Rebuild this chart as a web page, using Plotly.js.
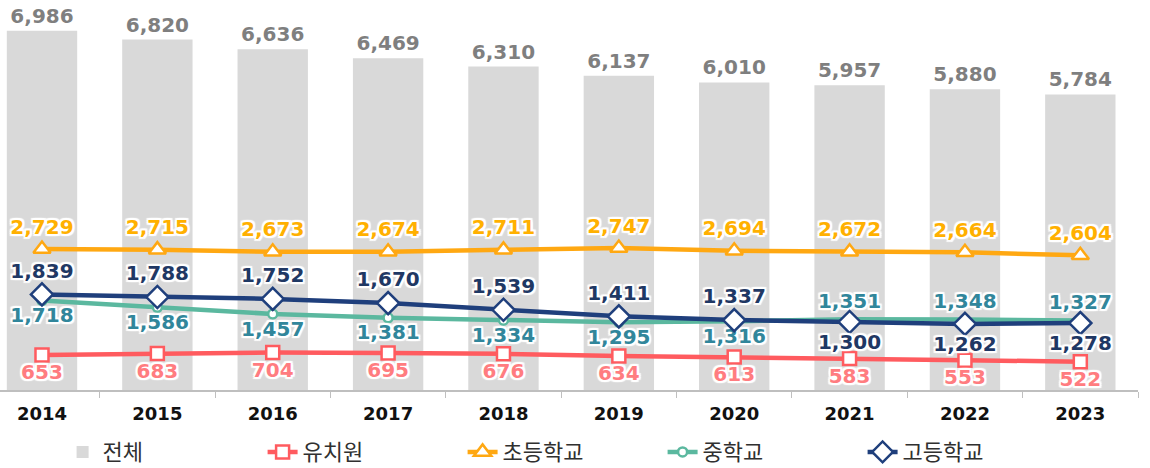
<!DOCTYPE html>
<html>
<head>
<meta charset="utf-8">
<script src="https://cdn.plot.ly/plotly-3.0.1.min.js"></script>
<style>
    html, body { margin: 0; padding: 0; background: #fff; }
    #plotly__graph { width: 1150px; height: 468px; }
</style>
</head>
<body>
<div id="plotly__graph"></div>
<script>
// **********************************************************************************************
// DATA

const years = ['2014', '2015', '2016', '2017', '2018', '2019', '2020', '2021', '2022', '2023'];
const total = [6986, 6820, 6636, 6469, 6310, 6137, 6010, 5957, 5880, 5784];
const kinder = [653, 683, 704, 695, 676, 634, 613, 583, 553, 522];
const elementary = [2729, 2715, 2673, 2674, 2711, 2747, 2694, 2672, 2664, 2604];
const middle = [1718, 1586, 1457, 1381, 1334, 1295, 1316, 1351, 1348, 1327];
const high = [1839, 1788, 1752, 1670, 1539, 1411, 1337, 1300, 1262, 1278];

const plotly_graph = () => {
    const div = document.getElementById('plotly__graph');

    const halo = '2px 0 1px #fff, -2px 0 1px #fff, 0 2px 1px #fff, 0 -2px 1px #fff, 2px 2px 1px #fff, -2px -2px 1px #fff, 2px -2px 1px #fff, -2px 2px 1px #fff';
    const labelFont = (color) => ({ family: 'DejaVu Sans', size: 20, weight: 'bold', color: color, shadow: halo });

    // label sides for middle / high school flip after 2020
    const highPos = years.map((y, i) => i < 7 ? 'top center' : 'bottom center');
    const middlePos = years.map((y, i) => i < 7 ? 'bottom center' : 'top center');

    let bars = {
        name: '전체',
        type: 'bar',
        x: years,
        y: total,
        marker: { color: '#D9D9D9' },
        texttemplate: '%{y:,}',
        textposition: 'outside',
        textfont: { family: 'DejaVu Sans', size: 20, weight: 'bold', color: '#7F7F7F' },
        cliponaxis: false,
        hoverinfo: 'skip'
    };

    const lineTrace = (name, values, color, symbol, size, textColor, pos) => ({
        name: name,
        type: 'scatter',
        mode: 'lines+markers+text',
        x: years,
        y: values,
        yaxis: 'y2',
        line: { color: color, width: 4.5 },
        marker: { symbol: symbol, size: size, color: '#fff', line: { color: color, width: 2.5 } },
        texttemplate: '%{y:,}',
        textposition: pos,
        textfont: labelFont(textColor),
        cliponaxis: false,
        hoverinfo: 'skip'
    });

    let data = [
        bars,
        lineTrace('유치원', kinder, '#FF5B5F', 'square', 13, '#FF7C80', 'bottom center'),
        lineTrace('초등학교', elementary, '#FFA812', 'triangle-up', 15, '#FFB000', 'top center'),
        lineTrace('중학교', middle, '#5BB89F', 'circle', 9, '#31869B', middlePos),
        lineTrace('고등학교', high, '#1F3F7C', 'diamond', 17, '#1F3864', highPos)
    ];

    // **********************************************************************************************
    // LAYOUT

    let layout = {
        width: 1150,
        height: 468,
        margin: { t: 20, r: 12, b: 78, l: 0, autoexpand: false },
        paper_bgcolor: '#fff',
        plot_bgcolor: '#fff',
        bargap: 0.39,
        showlegend: true,
        legend: {
            orientation: 'h',
            x: 0.055,
            xanchor: 'left',
            yref: 'container',
            y: 0.034,
            yanchor: 'middle',
            font: { family: 'Noto Sans CJK KR', size: 22, color: '#303030' },
            entrywidth: 155,
            entrywidthmode: 'pixels',
            traceorder: 'normal'
        },
        xaxis: {
            type: 'category',
            range: [-0.364, 9.5],
            showline: true,
            linecolor: '#BFBFBF',
            linewidth: 1.5,
            ticks: 'outside',
            tickson: 'boundaries',
            ticklen: 6,
            tickcolor: '#BFBFBF',
            ticklabelstandoff: 7,
            tickfont: { family: 'DejaVu Sans', size: 18, weight: 'bold', color: '#111' },
            showgrid: false,
            zeroline: false,
            fixedrange: true
        },
        yaxis: {
            range: [207, 7189],
            visible: false,
            showgrid: false,
            zeroline: false,
            fixedrange: true
        },
        yaxis2: {
            range: [-31, 7209],
            overlaying: 'y',
            visible: false,
            showgrid: false,
            zeroline: false,
            fixedrange: true
        }
    };

    const config = {
        displaylogo: false,
        displayModeBar: false,
        staticPlot: true
    };

    Plotly.newPlot(div, data, layout, config);
};

plotly_graph();
</script>
</body>
</html>
